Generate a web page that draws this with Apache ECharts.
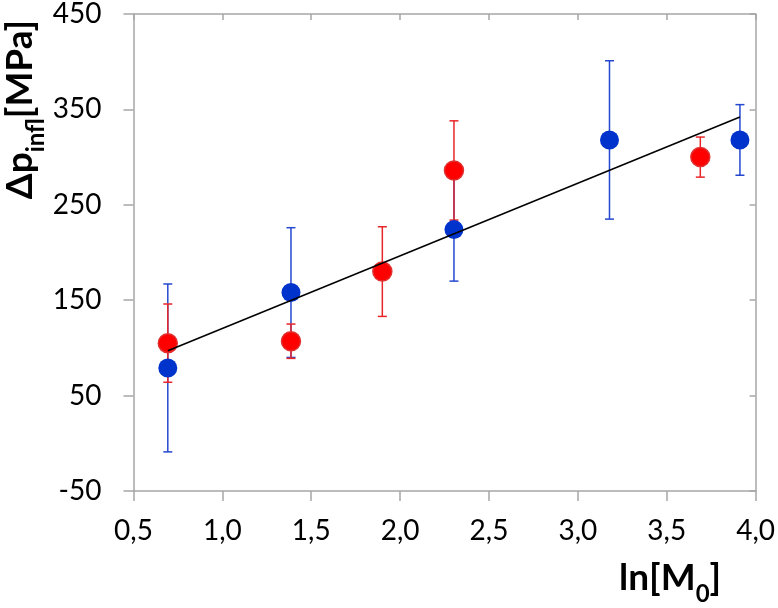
<!DOCTYPE html>
<html>
<head>
<meta charset="utf-8">
<script src="https://cdn.jsdelivr.net/npm/echarts@6/dist/echarts.min.js"></script>
<style>html,body{margin:0;padding:0;background:#fff}#c{width:778px;height:608px}</style>
</head>
<body>
<div id="c"></div>
<script>
// Data
const blueX = [0.693, 1.386, 2.303, 3.178, 3.912];
const blueY = [79, 158, 224, 318, 318];
const blueErr = [88, 68, 54, 83, 37];
const redX = [0.693, 1.386, 1.9, 2.303, 3.689];
const redY = [105, 107, 180, 286, 300];
const redErr = [41, 18, 47, 52, 21];
const trendX = [0.693, 3.912];
const trendY = [97, 342];
const xTicks = ['0,5', '1,0', '1,5', '2,0', '2,5', '3,0', '3,5', '4,0'];
const yTicks = ['-50', '50', '150', '250', '350', '450'];

const FONT = 'Lato';
const chart = echarts.init(document.getElementById('c'), null, {renderer: 'canvas'});

function errData(xs, ys, es) {
  return xs.map((x, i) => [x, ys[i] - es[i], ys[i] + es[i]]);
}
function errSeries(xs, ys, es, color) {
  return {
    type: 'custom',
    z: 1,
    data: errData(xs, ys, es),
    encode: {x: 0, y: [1, 2]},
    renderItem: function (params, api) {
      const lo = api.coord([api.value(0), api.value(1)]);
      const hi = api.coord([api.value(0), api.value(2)]);
      const cap = 4.5;
      const style = {stroke: color, lineWidth: 1.5, fill: null};
      return {
        type: 'group',
        children: [
          {type: 'line', shape: {x1: lo[0], y1: lo[1], x2: hi[0], y2: hi[1]}, style: style},
          {type: 'line', shape: {x1: lo[0] - cap, y1: lo[1], x2: lo[0] + cap, y2: lo[1]}, style: style},
          {type: 'line', shape: {x1: hi[0] - cap, y1: hi[1], x2: hi[0] + cap, y2: hi[1]}, style: style}
        ]
      };
    }
  };
}

const axisLineStyle = {color: '#a6a6a6', width: 1.5};

chart.setOption({
  animation: false,
  grid: {left: 133.5, right: 21, top: 12, bottom: 117},
  xAxis: [{
    type: 'value', min: 0.5, max: 4.0, interval: 0.5, position: 'bottom',
    axisLine: {show: true, onZero: false, lineStyle: axisLineStyle},
    axisTick: {show: true, length: 10, lineStyle: axisLineStyle},
    splitLine: {show: false},
    axisLabel: {
      margin: 26, color: '#000', fontFamily: FONT, fontSize: 28,
      formatter: v => xTicks[Math.round((v - 0.5) / 0.5)]
    }
  }, {
    type: 'value', min: 0.5, max: 4.0, interval: 0.5, position: 'top',
    axisLine: {show: true, onZero: false, lineStyle: axisLineStyle},
    axisTick: {show: true, inside: true, length: 6, lineStyle: axisLineStyle},
    splitLine: {show: false},
    axisLabel: {show: false}
  }],
  yAxis: [{
    type: 'value', min: -50, max: 450, interval: 100, position: 'left',
    axisLine: {show: true, onZero: false, lineStyle: axisLineStyle},
    axisTick: {show: true, length: 10, lineStyle: axisLineStyle},
    splitLine: {show: false},
    axisLabel: {
      margin: 32, color: '#000', fontFamily: FONT, fontSize: 28,
      formatter: v => yTicks[Math.round((v + 50) / 100)]
    }
  }, {
    type: 'value', min: -50, max: 450, interval: 100, position: 'right',
    axisLine: {show: true, onZero: false, lineStyle: axisLineStyle},
    axisTick: {show: true, inside: true, length: 6, lineStyle: axisLineStyle},
    splitLine: {show: false},
    axisLabel: {show: false}
  }],
  graphic: [{
    type: 'text',
    left: 2, top: 20,
    rotation: Math.PI / 2,
    originX: 0, originY: 0,
    style: {
      text: '{b|Δp}{s|infl}{b|[MPa]}',
      rich: {
        b: {fontFamily: FONT, fontWeight: 'bold', fontSize: 37, fill: '#000', verticalAlign: 'bottom'},
        s: {fontFamily: FONT, fontWeight: 'bold', fontSize: 24, fill: '#000', verticalAlign: 'bottom', padding: [0,0,-9,0]}
      }
    }
  }, {
    type: 'text',
    left: 619, top: 560,
    style: {
      text: '{b|ln[M}{s|0}{b|]}',
      rich: {
        b: {fontFamily: FONT, fontWeight: 'bold', fontSize: 37, fill: '#000', verticalAlign: 'bottom'},
        s: {fontFamily: FONT, fontWeight: 'bold', fontSize: 24, fill: '#000', verticalAlign: 'bottom', padding: [0,0,-9,0]}
      }
    }
  }],
  series: [
    errSeries(blueX, blueY, blueErr, '#2448d0'),
    errSeries(redX, redY, redErr, '#e8262a'),
    {
      type: 'scatter', z: 2, symbol: 'circle', symbolSize: 19,
      data: blueX.map((x, i) => [x, blueY[i]]),
      itemStyle: {color: '#0033cc', opacity: 1}
    },
    {
      type: 'scatter', z: 2, symbol: 'circle', symbolSize: 19,
      data: redX.map((x, i) => [x, redY[i]]),
      itemStyle: {color: '#ff0000', borderColor: '#e03030', borderWidth: 1.5, opacity: 1}
    },
    {
      type: 'line', z: 3, symbol: 'none',
      data: trendX.map((x, i) => [x, trendY[i]]),
      lineStyle: {color: '#000', width: 1.5}
    }
  ]
});
</script>
</body>
</html>
